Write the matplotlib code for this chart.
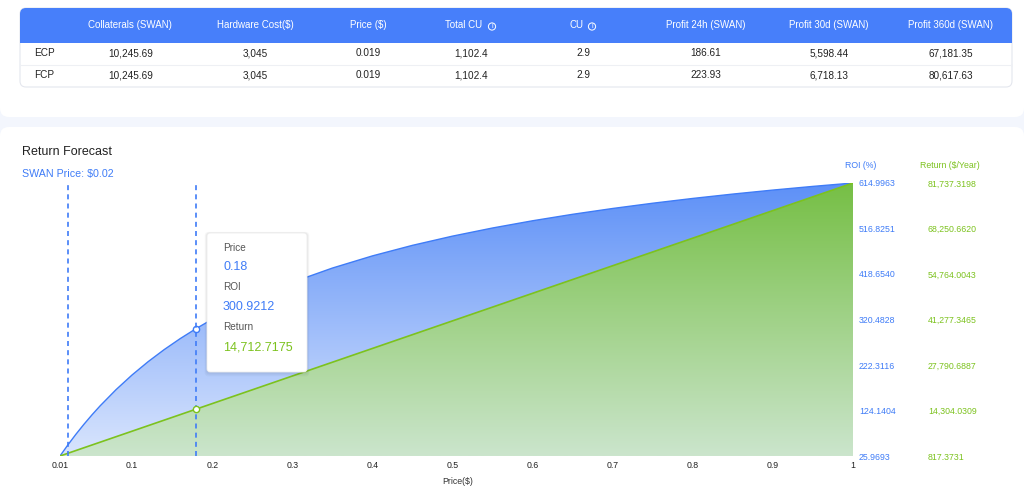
import numpy as np
import matplotlib
matplotlib.use('Agg')
import matplotlib.pyplot as plt
from matplotlib.patches import FancyBboxPatch, Rectangle, Circle
from matplotlib.colors import to_rgb

plt.rcParams['font.family'] = ['Liberation Sans', 'DejaVu Sans']

# table data
col_headers = ['Collaterals (SWAN)', 'Hardware Cost($)', 'Price ($)', 'Total CU', 'CU',
               'Profit 24h (SWAN)', 'Profit 30d (SWAN)', 'Profit 360d (SWAN)']
row_names = ['ECP', 'FCP']
ecp_values = ['10,245.69', '3,045', '0.019', '1,102.4', '2.9', '186.61', '5,598.44', '67,181.35']
fcp_values = ['10,245.69', '3,045', '0.019', '1,102.4', '2.9', '223.93', '6,718.13', '80,617.63']

# forecast data
price = [0.01, 0.02, 0.03, 0.04, 0.05, 0.06, 0.08, 0.10, 0.12, 0.14, 0.16, 0.18, 0.20,
         0.25, 0.30, 0.35, 0.40, 0.45, 0.50, 0.55, 0.60, 0.65, 0.70, 0.75, 0.80, 0.85,
         0.90, 0.95, 1.00]
roi = [25.9693, 50.30, 73.15, 94.64, 114.89, 134.01, 169.20, 200.85, 229.47, 255.46,
       279.19, 300.9212, 320.91, 364.48, 400.76, 431.43, 457.70, 480.46, 500.36, 517.91,
       533.51, 547.46, 560.01, 571.36, 581.68, 591.10, 599.73, 607.67, 614.9963]
ret = [817.3731, 1634.75, 2452.12, 3269.49, 4086.87, 4904.24, 6538.99, 8173.73, 9808.48,
       11443.22, 13077.97, 14712.7175, 16347.46, 20434.33, 24521.20, 28608.06, 32694.93,
       36781.79, 40868.66, 44955.53, 49042.39, 53129.26, 57216.12, 61302.99, 65389.86,
       69476.72, 73563.59, 77650.45, 81737.3198]
roi_ticks = [25.9693, 124.1404, 222.3116, 320.4828, 418.6540, 516.8251, 614.9963]
roi_labels = ['25.9693', '124.1404', '222.3116', '320.4828', '418.6540', '516.8251', '614.9963']
ret_ticks = [817.3731, 14304.0309, 27790.6887, 41277.3465, 54764.0043, 68250.6620, 81737.3198]
ret_labels = ['817.3731', '14,304.0309', '27,790.6887', '41,277.3465', '54,764.0043',
              '68,250.6620', '81,737.3198']
x_ticks = [0.01, 0.1, 0.2, 0.3, 0.4, 0.5, 0.6, 0.7, 0.8, 0.9, 1.0]
x_labels = ['0.01', '0.1', '0.2', '0.3', '0.4', '0.5', '0.6', '0.7', '0.8', '0.9', '1']
swan_price = 0.02
hover_price = 0.18
hover_roi = 300.9212
hover_ret = 14712.7175

W, H = 1024, 488
BLUE = '#3f7cf7'
GREEN = '#7cc21e'
HEAD = '#477ffa'

fig = plt.figure(figsize=(W / 100, H / 100), dpi=100, facecolor='#f3f6fd')

# background / page in pixel coords
bg = fig.add_axes([0, 0, 1, 1], zorder=0)
bg.set_xlim(0, W)
bg.set_ylim(H, 0)
bg.axis('off')
bg.add_patch(FancyBboxPatch((0, -30), W, 147, boxstyle='round,pad=0,rounding_size=9',
                            facecolor='white', edgecolor='none'))
bg.add_patch(FancyBboxPatch((0, 127), W, 400, boxstyle='round,pad=0,rounding_size=9',
                            facecolor='white', edgecolor='none'))

# table card
bg.add_patch(FancyBboxPatch((20, 8), 992, 79, boxstyle='round,pad=0,rounding_size=6',
                            facecolor='white', edgecolor='#e4e7ee', lw=0.8))
bg.add_patch(FancyBboxPatch((20, 8), 992, 35, boxstyle='round,pad=0,rounding_size=6',
                            facecolor=HEAD, edgecolor='none'))
bg.add_patch(Rectangle((20, 30), 992, 13, facecolor=HEAD, edgecolor='none'))
bg.plot([21, 1011], [65, 65], color='#eef0f4', lw=0.8)

col_x = [130, 255, 368, 464, 576, 706, 829, 951]
for cx, h in zip(col_x, col_headers):
    bg.text(cx, 25.5, h, color='white', fontsize=7, ha='center', va='center')
for ix in [492, 592]:
    bg.add_patch(Circle((ix, 26.5), 3.6, facecolor='none', edgecolor='white', lw=0.7))
    bg.text(ix, 27, 'i', color='white', fontsize=5, ha='center', va='center')

val_x = [131, 255, 368, 471, 583, 706, 829, 951]
for ry, name, vals in [(53.5, row_names[0], ecp_values), (75.5, row_names[1], fcp_values)]:
    bg.text(34, ry, name, color='#222222', fontsize=7.2, ha='left', va='center')
    for vx, v in zip(val_x, vals):
        bg.text(vx, ry, v, color='#222222', fontsize=7.2, ha='center', va='center')

bg.text(22, 152, 'Return Forecast', color='#222222', fontsize=9, ha='left', va='center')
bg.text(22, 173.5, 'SWAN Price: $0.02', color=BLUE, fontsize=7.7, ha='left', va='center')
bg.text(861, 166, 'ROI (%)', color=BLUE, fontsize=6.3, ha='center', va='center')
bg.text(950, 166, 'Return ($/Year)', color=GREEN, fontsize=6.3, ha='center', va='center')
bg.text(458, 481, 'Price($)', color='#333333', fontsize=6.3, ha='center', va='center')

# chart axes
ax = fig.add_axes([60 / W, (H - 456) / H, (853 - 60) / W, (456 - 183) / H], zorder=2)
ax.patch.set_alpha(0)
ax2 = ax.twinx()
ax2.set_zorder(3)
ax2.patch.set_alpha(0)


def gradient(top, bottom):
    t = np.linspace(0, 1, 256)[:, None]
    c1 = np.array(to_rgb(top))
    c2 = np.array(to_rgb(bottom))
    rgb = c1 * (1 - t) + c2 * t
    return rgb.reshape(256, 1, 3)


poly = ax.fill_between(price, roi, roi_ticks[0], facecolor='none', lw=0)
im = ax.imshow(gradient('#5d90f7', '#d9e5fd'), extent=[0.01, 1, roi_ticks[0], roi_ticks[-1]],
               aspect='auto', origin='upper', zorder=1, interpolation='bilinear')
im.set_clip_path(poly.get_paths()[0], transform=ax.transData)
ax.plot(price, roi, color=BLUE, lw=1.0, zorder=3)

poly2 = ax2.fill_between(price, ret, ret_ticks[0], facecolor='none', lw=0)
im2 = ax2.imshow(gradient('#76bf45', '#cbe5cc'), extent=[0.01, 1, ret_ticks[0], ret_ticks[-1]],
                 aspect='auto', origin='upper', zorder=1, interpolation='bilinear')
im2.set_clip_path(poly2.get_paths()[0], transform=ax2.transData)
ax2.plot(price, ret, color=GREEN, lw=1.2, zorder=3)

for xv in [swan_price, hover_price]:
    ax2.axvline(xv, color=BLUE, lw=1.2, ls=(0, (3, 2.5)), zorder=4)
ax.plot([hover_price], [hover_roi], 'o', mfc='white', mec=BLUE, ms=4.5, mew=1, zorder=5)
ax2.plot([hover_price], [hover_ret], 'o', mfc='white', mec=GREEN, ms=4.5, mew=1, zorder=5)

ax.set_xlim(0.01, 1)
ax.set_ylim(roi_ticks[0], roi_ticks[-1])
ax2.set_ylim(ret_ticks[0], ret_ticks[-1])
ax.set_xticks(x_ticks, labels=x_labels)
ax.tick_params(axis='x', length=0, pad=3.5, labelsize=6.3, labelcolor='#222222')
ax.yaxis.tick_right()
ax.set_yticks(roi_ticks, labels=roi_labels)
ax.tick_params(axis='y', length=0, pad=4.3, labelsize=6.3, labelcolor=BLUE)
ax2.set_yticks(ret_ticks, labels=ret_labels)
ax2.tick_params(axis='y', length=0, pad=54, labelsize=6.3, labelcolor=GREEN)
for a in (ax, ax2):
    for s in a.spines.values():
        s.set_visible(False)

# tooltip
ov = fig.add_axes([0, 0, 1, 1], zorder=10)
ov.set_xlim(0, W)
ov.set_ylim(H, 0)
ov.axis('off')
for k in range(4, 0, -1):
    ov.add_patch(FancyBboxPatch((207 - k * 0.6, 233 - k * 0.3), 100 + k * 1.2, 139 + k * 1.4,
                                boxstyle='round,pad=0,rounding_size=4',
                                facecolor='black', edgecolor='none', alpha=0.025))
ov.add_patch(FancyBboxPatch((207, 233), 100, 139, boxstyle='round,pad=0,rounding_size=3',
                            facecolor='white', edgecolor='#ececec', lw=0.6))
ov.text(223, 248, 'Price', color='#555555', fontsize=7.2, ha='left', va='center')
ov.text(223, 267, f'{hover_price:.2f}', color=BLUE, fontsize=9, ha='left', va='center')
ov.text(223, 287, 'ROI', color='#555555', fontsize=7.2, ha='left', va='center')
ov.text(223, 307, f'{hover_roi:.4f}', color=BLUE, fontsize=9, ha='left', va='center')
ov.text(223, 327, 'Return', color='#555555', fontsize=7.2, ha='left', va='center')
ov.text(223, 348, f'{hover_ret:,.4f}', color=GREEN, fontsize=9, ha='left', va='center')

fig.savefig('out.png', dpi=100, facecolor=fig.get_facecolor())
